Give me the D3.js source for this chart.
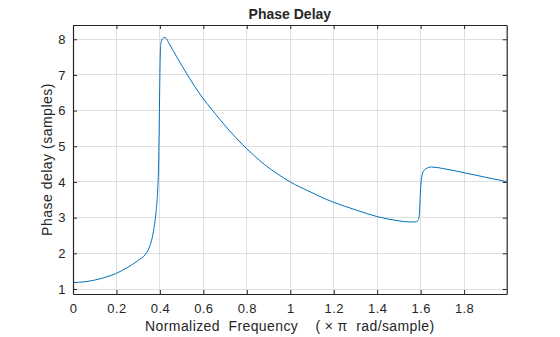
<!DOCTYPE html>
<html><head><meta charset="utf-8">
<script src="https://cdn.jsdelivr.net/npm/d3@7"></script>
<style>body{margin:0;background:#fff}svg{display:block}text{font-family:"Liberation Sans",Arial,sans-serif}</style>
</head><body>
<script>
const freq = [0,0.05,0.1,0.15,0.2,0.25,0.3,0.33,0.35,0.365,0.375,0.383,0.39,0.394,0.397,0.399,0.401,0.404,0.408,0.414,0.423,0.446,0.477,0.507,0.561,0.6,0.643,0.714,0.78,0.8,0.837,0.883,0.914,0.95,1.0,1.1,1.159,1.2,1.3,1.4,1.5,1.55,1.575,1.588,1.594,1.598,1.602,1.607,1.615,1.63,1.65,1.7,1.8,1.9,1.996];
const delay = [1.18,1.2,1.25,1.33,1.44,1.6,1.8,1.95,2.15,2.45,2.8,3.2,3.8,4.5,5.6,6.6,7.4,7.85,7.98,8.03,8.05,7.84,7.51,7.2,6.67,6.33,6.0,5.48,5.05,4.93,4.72,4.48,4.34,4.19,4.0,3.7,3.53,3.43,3.22,3.03,2.91,2.88,2.88,2.92,3.1,3.6,4.0,4.2,4.32,4.39,4.42,4.38,4.26,4.13,4.01];
const xTicks = [0,0.2,0.4,0.6,0.8,1,1.2,1.4,1.6,1.8];
const yTicks = [1,2,3,4,5,6,7,8];
const title = "Phase Delay";
const xLabel = "Normalized  Frequency    ( \u00d7 \u03c0  rad/sample)";
const yLabel = "Phase delay (samples)";

const W=560,H=337, L=73, R=506.7, T=25, B=294;
const svg=d3.select("body").append("svg").attr("width",W).attr("height",H);
const x=d3.scaleLinear().domain([0,1.996]).range([L,R]);
const y=d3.scaleLinear().domain([0.86,8.4]).range([B,T]);
const ink="#262626";

// grid
svg.append("g").selectAll("line").data(xTicks).join("line")
  .attr("x1",d=>x(d)).attr("x2",d=>x(d)).attr("y1",T).attr("y2",B)
  .attr("stroke","#dfdfdf").attr("stroke-width",1).attr("shape-rendering","crispEdges");
svg.append("g").selectAll("line").data(yTicks).join("line")
  .attr("y1",d=>y(d)).attr("y2",d=>y(d)).attr("x1",L).attr("x2",R)
  .attr("stroke","#dfdfdf").attr("stroke-width",1).attr("shape-rendering","crispEdges");

// curve
const data=freq.map((f,i)=>[f,delay[i]]);
svg.append("path").datum(data)
  .attr("d",d3.line().x(d=>x(d[0])).y(d=>y(d[1])).curve(d3.curveMonotoneX))
  .attr("fill","none").attr("stroke","#0072BD").attr("stroke-width",1);

// axes with inward ticks
const ax=svg.append("g").attr("transform",`translate(0,${B})`)
  .call(d3.axisBottom(x).tickValues(xTicks).tickSizeInner(-4).tickSizeOuter(0).tickPadding(10).tickFormat(d3.format("")));
const ax2=svg.append("g").attr("transform",`translate(0,${T})`)
  .call(d3.axisTop(x).tickValues(xTicks).tickSizeInner(-4).tickSizeOuter(0).tickFormat(""));
const ay=svg.append("g").attr("transform",`translate(${L},0)`)
  .call(d3.axisLeft(y).tickValues(yTicks).tickSizeInner(-4).tickSizeOuter(0).tickPadding(10));
const ay2=svg.append("g").attr("transform",`translate(${R},0)`)
  .call(d3.axisRight(y).tickValues(yTicks).tickSizeInner(-4).tickSizeOuter(0).tickFormat(""));
[ax,ax2,ay,ay2].forEach(g=>{
  g.selectAll("path").attr("stroke",ink).attr("stroke-width",1.2);
  g.selectAll("line").attr("stroke",ink);
  g.selectAll("text").attr("fill",ink).style("font-size","13px").style("letter-spacing","0.4px").style("font-family","'Liberation Sans',Arial,sans-serif");
});
ax.selectAll("text").attr("dy","0.71em").attr("y",10);
ay.selectAll("text").attr("x",-7);

svg.append("text").attr("x",(L+R)/2).attr("y",19).attr("text-anchor","middle")
  .style("font-size","14px").style("font-weight","bold").attr("fill",ink).text(title);
svg.append("text").attr("x",(L+R)/2).attr("y",331).attr("text-anchor","middle")
  .style("font-size","14px").style("letter-spacing","0.4px").attr("fill",ink).attr("xml:space","preserve").style("white-space","pre").text(xLabel);
svg.append("text").attr("transform",`translate(52,${(T+B)/2}) rotate(-90)`).attr("text-anchor","middle")
  .style("font-size","14px").style("letter-spacing","0.5px").attr("fill",ink).text(yLabel);
</script>
</body></html>
